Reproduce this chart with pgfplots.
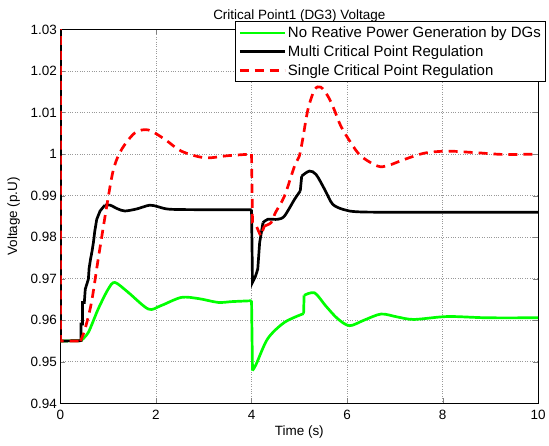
\documentclass[border=0pt]{standalone}
\usepackage{pgfplots}
\pgfplotsset{compat=1.18}
\usepackage{fontspec}
\setmainfont{Liberation Sans}
\begin{document}
\begin{tikzpicture}[font=\fontsize{13.5}{16}\selectfont]
\begin{axis}[
  scale only axis, width=479pt, height=375pt,
  xmin=0, xmax=10, ymin=0.94, ymax=1.03,
  xtick={0,2,4,6,8,10},
  ytick={0.94,0.95,0.96,0.97,0.98,0.99,1,1.01,1.02,1.03},
  yticklabel style={/pgf/number format/fixed,/pgf/number format/precision=2},
  xticklabel style={yshift=-3pt},
  /pgf/number format/assume math mode=true,
  tick align=inside, major tick length=5pt,
  xmajorgrids, ymajorgrids,
  grid style={dotted, gray!80, line width=0.7pt},
  axis line style={line width=0.8pt},
  title={Critical Point1 (DG3) Voltage},
  title style={yshift=-2pt},
  xlabel={Time (s)}, ylabel={Voltage (p.U)},
  xlabel style={yshift=1pt}, ylabel style={yshift=4pt},
  legend style={at={(1,1)}, anchor=north east, xshift=8pt, yshift=8pt,
    font=\fontsize{15}{18}\selectfont,
    draw=black, line width=0.8pt, fill=white, cells={anchor=west}, row sep=2.5pt, inner sep=3pt},
  legend image code/.code={\draw[#1] (0pt,0pt) -- (45pt,0pt);},
  gr/.style={color={rgb,255:red,0;green,255;blue,0}, line width=2.7pt},
  bk/.style={black, line width=2.7pt},
  rd/.style={color={rgb,255:red,255;green,0;blue,0}, line width=2.7pt, dash pattern=on 9pt off 6pt},
]
% green
\addplot[gr] coordinates {(0,0.955)(0.43,0.9551)};
\addlegendentry{No Reative Power Generation by DGs}
\addplot[gr, smooth, forget plot] coordinates {(0.43,0.9551)(0.585,0.9571)(0.79,0.9627)(1.0,0.9675)(1.14,0.9691)(1.42,0.9667)(1.84,0.9627)(2.1,0.9635)(2.53,0.9655)(2.9,0.9652)(3.3,0.9643)(3.6,0.9645)(4.0,0.9647)};
\addplot[gr, forget plot] coordinates {(4.0,0.9647)(4.02,0.9479)};
\addplot[gr, smooth, forget plot] coordinates {(4.02,0.9479)(4.1,0.9495)(4.34,0.9556)(4.69,0.9595)(5.09,0.9616)};
\addplot[gr, forget plot] coordinates {(5.09,0.9616)(5.1,0.966)};
\addplot[gr, smooth, forget plot] coordinates {(5.1,0.966)(5.32,0.9666)(5.55,0.9635)(5.8,0.9604)(6.05,0.9587)(6.35,0.96)(6.71,0.9615)(7.05,0.9608)(7.4,0.9602)(8.1,0.9609)(8.93,0.9606)(10,0.9606)};
% black
\addplot[bk] coordinates {(0,1.05)(0.001,0.955)(0.43,0.9551)(0.43,0.9591)(0.46,0.9591)(0.46,0.9643)(0.50,0.9643)
(0.52,0.9675)(0.585,0.9699)(0.60,0.9725)(0.63,0.9747)(0.66,0.9765)(0.69,0.9787)
(0.72,0.9815)(0.76,0.9843)(0.83,0.9863)(0.93,0.9877)};
\addlegendentry{Multi Critical Point Regulation}
\addplot[bk, smooth, forget plot] coordinates {(0.93,0.9877)(1.04,0.9877)(1.2,0.9868)(1.35,0.9863)(1.6,0.9868)(1.87,0.9877)(2.05,0.9873)(2.32,0.9867)(3.3,0.9866)(4.0,0.9866)};
\addplot[bk, forget plot] coordinates {(4.0,0.9866)(4.02,0.9691)(4.08,0.9705)(4.13,0.9723)(4.17,0.9787)(4.24,0.9835)};
\addplot[bk, smooth, forget plot] coordinates {(4.24,0.9835)(4.34,0.9843)(4.55,0.9843)(4.69,0.9851)(4.9,0.9891)(5.02,0.9911)};
\addplot[bk, forget plot] coordinates {(5.02,0.9911)(5.05,0.9947)};
\addplot[bk, smooth, forget plot] coordinates {(5.05,0.9947)(5.21,0.9959)(5.35,0.9951)(5.53,0.9915)(5.7,0.9879)(5.94,0.9866)(6.22,0.9861)(7,0.986)(10,0.986)};
% red
\addplot[rd] coordinates {(0,1.05)(0.001,0.955)(0.42,0.955)};
\addlegendentry{Single Critical Point Regulation}
\addplot[rd, smooth, forget plot] coordinates {(0.42,0.955)(0.515,0.9579)(0.65,0.9643)(0.79,0.9747)(0.97,0.9875)(1.11,0.9963)(1.28,1.0011)(1.56,1.0051)(1.84,1.0058)(2.19,1.0035)(2.53,1.0007)(3.02,0.9991)(3.5,0.9996)(4.0,1.0)};
\addplot[rd, forget plot] coordinates {(4.0,1.0)(4.02,0.9835)(4.1,0.9827)(4.19,0.9803)(4.27,0.9827)};
\addplot[rd, smooth, forget plot] coordinates {(4.27,0.9827)(4.41,0.9835)(4.5,0.9859)(4.69,0.9899)(4.9,0.9971)(5.0,0.9995)(5.07,1.0035)(5.18,1.0107)(5.32,1.0155)(5.45,1.0161)(5.6,1.0139)(5.73,1.0107)(5.87,1.0067)(6.08,1.0027)(6.29,0.9995)(6.64,0.9971)(6.85,0.9972)(7.2,0.9987)(7.61,1.0002)(8.1,1.0007)(8.73,1.0003)(9.28,0.9999)(10,1.0)};
\end{axis}
\path ([xshift=-4pt,yshift=6pt]current bounding box.north west);
\path ([yshift=-4pt]current bounding box.south);
\end{tikzpicture}
\end{document}
